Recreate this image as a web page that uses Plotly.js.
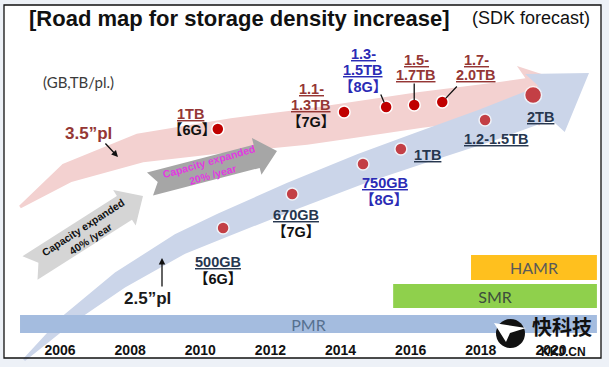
<!DOCTYPE html>
<html><head><meta charset="utf-8">
<script src="https://cdn.plot.ly/plotly-3.0.1.min.js"></script>
<style>html,body{margin:0;padding:0;background:#edf1f7;}</style>
</head><body><div id="chart" style="width:609px;height:367px;"></div>
<script>
// ---------------- data ----------------
const yearTicks = [2006, 2008, 2010, 2012, 2014, 2016, 2018, 2020];
const yearLabels = ['2006', '2008', '2010', '2012', '2014', '2016', '2018', '2020'];

// 3.5" platters (relative position level on the roadmap)
const hdd35Years = [2010.5, 2014.1, 2015.3, 2016.1, 2016.9];
const hdd35Level = [211, 228, 233, 235, 238];
const hdd35Labels = [['1TB', '【6G】'], ['1.1-', '1.3TB', '【7G】'], ['1.3-', '1.5TB', '【8G】'], ['1.5-', '1.7TB'], ['1.7-', '2.0TB']];

// 2.5" platters
const hdd25Years = [2010.65, 2012.62, 2014.64, 2015.72, 2018.12, 2019.49];
const hdd25Level = [112, 146, 176, 191, 220, 245];
const hdd25Labels = [['500GB', '【6G】'], ['670GB', '【7G】'], ['750GB', '【8G】'], ['1TB'], ['1.2-1.5TB'], ['2TB']];

// recording technologies
const techNames = ['PMR', 'SMR', 'HAMR'];
const techStart = [2004.86, 2015.5, 2017.72];
const techEnd = [2021.31, 2021.31, 2021.31];

const growthTexts = ['Capacity expanded<br>40% /year', 'Capacity expanded<br>20% /year'];
const platterNames = ['3.5”pl', '2.5”pl'];
const unitNote = '(GB,TB/pl.)';
const titleMain = '[Road map for storage density increase]';
const titleSub = '(SDK forecast)';

// ---------------- styles ----------------
const W = 609, H = 367, PLOTH = 340;
const PXPERYEAR = 35.07, X2006 = 60;
const x0 = 2006 - X2006 / PXPERYEAR;
const x1 = x0 + W / PXPERYEAR;
const FONT = 'Liberation Sans, Arial, Noto Sans CJK SC, sans-serif';
const RED = '#953735', BLUE = '#2b2bb5', NAVY = '#27374f', BLK = '#111111';

const lab35Style = [
  [{dx: -27, dy: -15, c: RED, u: 1}, {dx: -26, dy: 1, c: BLK}],
  [{dx: -33, dy: -23, c: RED, u: 1}, {dx: -33, dy: -7, c: RED, u: 1}, {dx: -33, dy: 10, c: BLK}],
  [{dx: -23, dy: -53, c: BLUE, u: 1}, {dx: -23, dy: -37, c: BLUE, u: 1}, {dx: -23, dy: -20, c: BLUE}],
  [{dx: 2, dy: -45, c: RED, u: 1}, {dx: 2, dy: -30, c: RED, u: 1}],
  [{dx: 34, dy: -42, c: RED, u: 1}, {dx: 34, dy: -27, c: RED, u: 1}]
];
const lab25Style = [
  [{dx: -5, dy: 34, c: NAVY, u: 1}, {dx: -5, dy: 51, c: BLK}],
  [{dx: 4, dy: 21, c: NAVY, u: 1}, {dx: 4, dy: 38, c: BLK}],
  [{dx: 22, dy: 19, c: BLUE, u: 1}, {dx: 21, dy: 36, c: BLUE}],
  [{dx: 27, dy: 6, c: NAVY, u: 1}],
  [{dx: 11, dy: 19, c: NAVY, u: 1}],
  [{dx: 7, dy: 22, c: NAVY, u: 1}]
];
const leaders35 = {2: [-6, -14], 3: [0, -23], 4: [16, -17]};

// pixel -> paper helper for decorations
const PX = (px, py) => [px / W, (PLOTH - py) / PLOTH];
function pathOf(pts) {
  return 'M ' + pts.map(p => { const q = PX(p[0], p[1]); return q[0].toFixed(5) + ',' + q[1].toFixed(5); }).join(' L ') + ' Z';
}
function band(C, Wd, tip, Hh) {
  const up = [], lo = [];
  for (let i = 0; i < C.length; i++) {
    const a = C[Math.max(0, i - 1)], b = C[Math.min(C.length - 1, i + 1)];
    let dx = b[0] - a[0], dy = b[1] - a[1]; const l = Math.hypot(dx, dy); dx /= l; dy /= l;
    const nx = dy, ny = -dx;
    up.push([C[i][0] + nx * Wd[i] / 2, C[i][1] + ny * Wd[i] / 2]);
    lo.push([C[i][0] - nx * Wd[i] / 2, C[i][1] - ny * Wd[i] / 2]);
  }
  const E = C[C.length - 1];
  let ux = tip[0] - E[0], uy = tip[1] - E[1]; const l = Math.hypot(ux, uy); ux /= l; uy /= l;
  const nx = uy, ny = -ux;
  return up.concat([[E[0] + nx * Hh, E[1] + ny * Hh], tip, [E[0] - nx * Hh, E[1] - ny * Hh]], lo.reverse());
}
function arrowPoly(tail, tip, sw, hw, hl, notch) {
  let ux = tip[0] - tail[0], uy = tip[1] - tail[1]; const l = Math.hypot(ux, uy); ux /= l; uy /= l;
  const nx = uy, ny = -ux;
  const hb = [tip[0] - ux * hl, tip[1] - uy * hl];
  const P = (c, s) => [c[0] + nx * s, c[1] + ny * s];
  return [P(tail, sw / 2), P(hb, sw / 2), P(hb, hw / 2), tip, P(hb, -hw / 2), P(hb, -sw / 2), P(tail, -sw / 2),
          [tail[0] + ux * notch, tail[1] + uy * notch]];
}

const pinkBand = band([[20, 207], [67, 173], [140, 148], [233, 135], [305, 127], [346, 121], [420, 110], [500, 100], [528, 96]],
                      [3, 20, 29, 34, 36, 36, 36, 36, 36], [566, 82], 32);
const blueBand = band([[24, 360], [67, 320], [120, 280], [180, 244], [223, 225], [292, 196], [363, 168], [420, 148], [484, 126], [545, 103]],
                      [3, 12, 18, 22, 25, 28, 30, 32, 34, 36], [589, 73], 35);
const arrow40 = arrowPoly([30, 268], [143, 196], 28, 42, 22, 10);
const arrow20 = arrowPoly([150, 184], [277, 151], 24, 38, 21, 8);

const shapes = [
  {type: 'rect', xref: 'paper', yref: 'paper', x0: PX(4, 5)[0], y0: PX(4, 5)[1], x1: PX(601, 358)[0], y1: PX(601, 358)[1],
   fillcolor: '#ffffff', line: {width: 0}, layer: 'below'},
  {type: 'path', xref: 'paper', yref: 'paper', path: pathOf(pinkBand), fillcolor: '#f3d1d0', line: {width: 0}, layer: 'below'},
  {type: 'path', xref: 'paper', yref: 'paper', path: pathOf(blueBand), fillcolor: '#cbd5e9', line: {width: 0}, layer: 'below'},
  {type: 'path', xref: 'paper', yref: 'paper', path: pathOf(arrow40), fillcolor: '#d5d5d5', line: {width: 0}, layer: 'below'},
  {type: 'path', xref: 'paper', yref: 'paper', path: pathOf(arrow20), fillcolor: '#a6a6a6', line: {width: 0}, layer: 'below'},
  {type: 'rect', xref: 'paper', yref: 'paper', x0: PX(4, 5)[0], y0: PX(4, 5)[1], x1: PX(601, 358)[0], y1: PX(601, 358)[1],
   fillcolor: 'rgba(0,0,0,0)', line: {width: 1.3, color: '#111'}, layer: 'above'},
  // watermark logo
  {type: 'circle', xref: 'paper', yref: 'paper', x0: PX(496, 319)[0], y0: PX(496, 319)[1], x1: PX(525, 348)[0], y1: PX(525, 348)[1],
   fillcolor: '#111', line: {width: 0}, layer: 'above'},
  {type: 'path', xref: 'paper', yref: 'paper', path: pathOf([[494, 323], [526, 328], [510, 333], [506, 342]]), fillcolor: '#ffffff', line: {width: 0}, layer: 'above'}
];

const annotations = [];
annotations.push({xref: 'paper', yref: 'paper', x: PX(592, 18)[0], y: PX(592, 18)[1], xanchor: 'right', yanchor: 'middle',
  text: titleSub, showarrow: false, font: {family: FONT, size: 18, color: '#111'}});
annotations.push({xref: 'paper', yref: 'paper', x: PX(78, 82)[0], y: PX(78, 82)[1], xanchor: 'center', yanchor: 'middle',
  text: unitNote, showarrow: false, font: {family: 'Lato, Open Sans, sans-serif', size: 15, color: '#3a3a3a'}});
annotations.push({xref: 'paper', yref: 'paper', x: PX(88, 133)[0], y: PX(88, 133)[1], xanchor: 'center', yanchor: 'middle',
  text: '<b>' + platterNames[0] + '</b>', showarrow: false, font: {family: FONT, size: 17, color: RED}});
annotations.push({xref: 'paper', yref: 'paper', x: PX(147, 298)[0], y: PX(147, 298)[1], xanchor: 'center', yanchor: 'middle',
  text: '<b>' + platterNames[1] + '</b>', showarrow: false, font: {family: FONT, size: 17, color: '#1a1a1a'}});
annotations.push({xref: 'paper', yref: 'paper', x: PX(118, 157)[0], y: PX(118, 157)[1], text: '', showarrow: true,
  ax: -14, ay: -15, arrowhead: 2, arrowsize: 1, arrowwidth: 1.3, arrowcolor: '#111'});
annotations.push({xref: 'paper', yref: 'paper', x: PX(162, 258)[0], y: PX(162, 258)[1], text: '', showarrow: true,
  ax: 0, ay: 30, arrowhead: 2, arrowsize: 1, arrowwidth: 1.3, arrowcolor: '#111'});
annotations.push({xref: 'paper', yref: 'paper', x: PX(87, 233)[0], y: PX(87, 233)[1], xanchor: 'center', yanchor: 'middle',
  text: '<b>' + growthTexts[0] + '</b>', textangle: -33, showarrow: false, font: {family: FONT, size: 10.5, color: '#111'}});
annotations.push({xref: 'paper', yref: 'paper', x: PX(211, 168)[0], y: PX(211, 168)[1], xanchor: 'center', yanchor: 'middle',
  text: '<b>' + growthTexts[1] + '</b>', textangle: -16, showarrow: false, font: {family: FONT, size: 10.5, color: '#e03ce0'}});
// watermark
annotations.push({xref: 'paper', yref: 'paper', x: PX(562, 326)[0], y: PX(562, 326)[1], xanchor: 'center', yanchor: 'middle',
  text: '<b>快科技</b>', showarrow: false, font: {family: 'Noto Sans CJK SC', size: 20, color: '#111'}});
annotations.push({xref: 'paper', yref: 'paper', x: PX(563, 352)[0], y: PX(563, 352)[1], xanchor: 'center', yanchor: 'middle',
  text: '<b>KKJ.CN</b>', showarrow: false, font: {family: FONT, size: 12, color: '#111'}});

function addLabels(xs, ys, labels, styles) {
  labels.forEach((lines, i) => {
    lines.forEach((t, j) => {
      const s = styles[i][j];
      const txt = s.u ? '<span style="text-decoration:underline">' + t + '</span>' : t;
      annotations.push({x: xs[i], y: ys[i], xref: 'x', yref: 'y', xshift: s.dx, yshift: -s.dy, showarrow: false,
        xanchor: 'center', yanchor: 'middle', text: '<b>' + txt + '</b>', font: {family: FONT, size: 14.5, color: s.c}});
    });
  });
}
addLabels(hdd35Years, hdd35Level, hdd35Labels, lab35Style);
addLabels(hdd25Years, hdd25Level, hdd25Labels, lab25Style);
Object.keys(leaders35).forEach(k => {
  const i = +k;
  annotations.push({x: hdd35Years[i], y: hdd35Level[i], xref: 'x', yref: 'y', text: '', showarrow: true,
    ax: leaders35[k][0], ay: leaders35[k][1], arrowhead: 0, arrowwidth: 1.3, arrowcolor: '#111', standoff: 5});
});

const traces = [
  {type: 'bar', orientation: 'h', y: [16, 44, 72.5], x: techEnd.map((e, i) => e - techStart[i]), base: techStart,
   width: [18, 24, 25], marker: {color: ['#a4bcdf', '#8fd04c', '#ffc01e'], line: {width: 0}},
   text: techNames, textposition: 'inside', insidetextanchor: 'middle', textangle: 0, constraintext: 'none',
   textfont: {family: 'Lato, Open Sans, sans-serif', size: 16, color: ['#56708f', '#3d4e3d', '#595959']}, hoverinfo: 'skip'},
  {type: 'scatter', mode: 'markers', x: hdd35Years, y: hdd35Level,
   marker: {size: 12, color: '#c00000', line: {color: '#ffffff', width: 1.5}}, hoverinfo: 'skip'},
  {type: 'scatter', mode: 'markers', x: hdd25Years, y: hdd25Level,
   marker: {size: [12, 12, 12, 12, 12, 17], color: '#c00000', line: {color: '#ffffff', width: 1.5}}, hoverinfo: 'skip'}
];

const layout = {
  width: W, height: H, margin: {l: 0, r: 0, t: 0, b: H - PLOTH},
  paper_bgcolor: '#edf1f7', plot_bgcolor: 'rgba(0,0,0,0)', showlegend: false,
  title: {text: '<b>' + titleMain + '</b>', x: 29 / W, xanchor: 'left', xref: 'container', y: 1 - 18 / H, yanchor: 'middle', yref: 'container',
          font: {family: FONT, size: 22, color: '#111'}},
  xaxis: {range: [x0, x1], tickvals: yearTicks, ticktext: yearLabels, showgrid: false, zeroline: false, showline: false,
          ticks: '', tickfont: {family: FONT, size: 14, color: '#111', weight: 'bold'}, fixedrange: true},
  yaxis: {range: [0, PLOTH], visible: false, fixedrange: true},
  shapes: shapes, annotations: annotations
};
Plotly.newPlot('chart', traces, layout, {displayModeBar: false, staticPlot: true});
</script></body></html>
